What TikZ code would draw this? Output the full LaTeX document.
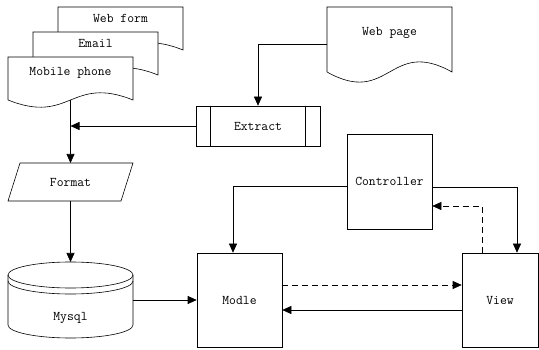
\documentclass[tikz,border=0pt]{standalone}
\usepackage{fontspec}
\usetikzlibrary{arrows.meta}

\tikzset{
  txt/.style={font=\ttfamily\fontsize{13.3}{15}\selectfont},
  blk/.style={draw, line width=0.6pt, inner sep=0pt, txt},
  ghost/.style={inner sep=0pt, outer sep=0pt},
  link/.style={line width=0.6pt, -{Triangle[length=9pt,width=8pt]}},
  dlink/.style={link, dash pattern=on 6pt off 4pt},
}

% outline of a document symbol: node name, wave amplitude
\newcommand{\docshape}[2]{%
  \draw[line width=0.6pt, fill=white] (#1.south west) -- (#1.north west) -- (#1.north east)
    -- (#1.south east) .. controls +(-62.5,-#2) and +(62.5,#2) .. (#1.south west);
}

\begin{document}
\begin{tikzpicture}[x=1pt,y=-1pt]
\useasboundingbox (0,0) rectangle (539,350);

% stacked input documents, back to front
\node[ghost, minimum width=125pt, minimum height=43pt, anchor=north west] (webform) at (58,7) {};
\docshape{webform}{25}
\node[txt] (webformtxt) at ([yshift=10.5pt]webform.center) {Web form};

\node[ghost, minimum width=125pt, minimum height=43pt, anchor=north west] (email) at (33,32) {};
\docshape{email}{25}
\node[txt] (emailtxt) at ([yshift=10.5pt]email.center) {Email};

\node[ghost, minimum width=125pt, minimum height=43pt, anchor=north west] (phone) at (8,57) {};
\docshape{phone}{25}
\node[txt] (phonetxt) at ([yshift=5.5pt]phone.center) {Mobile phone};

% web page document
\node[ghost, minimum width=125pt, minimum height=65pt, anchor=north west] (webpage) at (327,7) {};
\docshape{webpage}{35}
\node[txt] (webpagetxt) at ([yshift=6.5pt]webpage.center) {Web page};

% extract process
\node[blk, minimum width=124pt, minimum height=40pt] (extract) at (258,126) {Extract};
\draw[line width=0.6pt] ([xshift=15pt]extract.north west) -- ([xshift=15pt]extract.south west);
\draw[line width=0.6pt] ([xshift=-15pt]extract.north east) -- ([xshift=-15pt]extract.south east);

% format
\node[ghost, txt, minimum width=113pt, minimum height=38pt] (format) at (70.5,182) {Format};
\draw[line width=0.6pt] ([xshift=6pt]format.north west) -- ([xshift=6pt]format.north east)
  -- ([xshift=-6pt]format.south east) -- ([xshift=-6pt]format.south west) -- cycle;

% database
\node[ghost, minimum width=125pt, minimum height=76pt] (mysql) at (70.5,300) {};
\draw[line width=0.6pt] (mysql.north) ++(0,13) ellipse[x radius=62.5pt, y radius=13pt];
\draw[line width=0.6pt] ([yshift=-19pt]mysql.north west) arc[start angle=180, end angle=360, x radius=62.5pt, y radius=13pt];
\draw[line width=0.6pt] ([yshift=-13pt]mysql.north west) -- ([yshift=13pt]mysql.south west)
  arc[start angle=180, end angle=360, x radius=62.5pt, y radius=13pt] -- ([yshift=-13pt]mysql.north east);
\node[txt] (mysqltxt) at ([yshift=-18pt]mysql.center) {Mysql};

% MVC
\node[blk, minimum width=85pt, minimum height=95pt] (ctrl) at (389.5,181.5) {Controller};
\node[blk, minimum width=85pt, minimum height=94pt] (modle) at (239.5,300) {Modle};
\node[blk, minimum width=76pt, minimum height=94pt] (view) at (500,300) {View};

% connectors
\draw[link] (phone.south) -- (format.north);
\draw[link] (extract.west) -- (extract.west -| phone.south);
\draw[link] ([yshift=-4.5pt]webpage.west) -| (extract.north);
\draw[link] (format.south) -- (mysql.north);
\draw[link] (mysql.east) -- (modle.west);
\draw[link] ([yshift=-4.5pt]ctrl.west) -| ([xshift=-6.5pt]modle.north);
\draw[link] ([yshift=-5.5pt]ctrl.east) -| ([xshift=17pt]view.north);
\draw[dlink] ([xshift=-18pt]view.north) |- ([yshift=-24.5pt]ctrl.east);
\draw[dlink] ([yshift=15pt]modle.east) -- ([yshift=15pt]view.west);
\draw[link] ([yshift=-10pt]view.west) -- ([yshift=-10pt]modle.east);

\end{tikzpicture}
\end{document}
